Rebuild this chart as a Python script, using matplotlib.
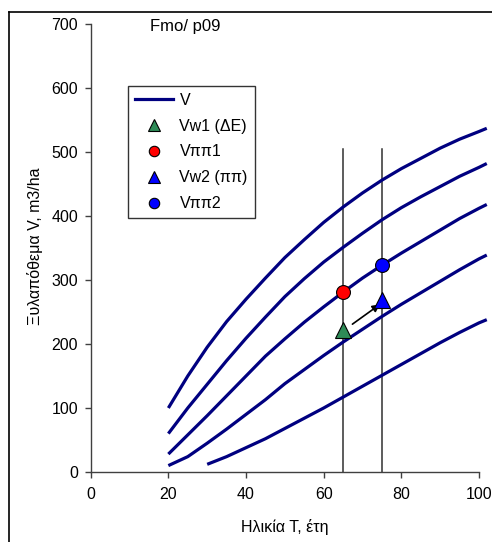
import matplotlib
matplotlib.use("Agg")
import matplotlib.pyplot as plt
from matplotlib.lines import Line2D

plt.rcParams['font.family'] = ['Liberation Sans', 'DejaVu Sans']

# ---- data ----
ages = [20, 25, 30, 35, 40, 45, 50, 55, 60, 65, 70, 75, 80, 85, 90, 95, 100, 102]
curve1 = [100, 150, 195, 235, 270, 303, 335, 363, 390, 414, 436, 456, 474, 490, 506, 520, 532, 537]
curve2 = [60, 100, 137, 174, 209, 242, 274, 302, 328, 351, 373, 394, 413, 430, 446, 462, 476, 482]
curve3 = [28, 58, 88, 119, 150, 181, 208, 234, 258, 281, 303, 323, 342, 360, 378, 396, 412, 418]
curve4 = [10, 24, 45, 67, 90, 113, 138, 160, 182, 203, 223, 243, 262, 280, 298, 316, 333, 339]
ages5 = [30, 35, 40, 45, 50, 55, 60, 65, 70, 75, 80, 85, 90, 95, 100, 102]
curve5 = [12, 24, 38, 52, 68, 84, 100, 117, 134, 151, 168, 185, 202, 218, 233, 238]

vlines_x = [65, 75]
vline_top = 505

vw1 = (65, 222)
vpp1 = (65, 281)
vw2 = (75, 268)
vpp2 = (75, 324)
arrow_start = (67.4, 231)
arrow_end = (74.5, 262)

xticks = [0, 20, 40, 60, 80, 100]
yticks = [0, 100, 200, 300, 400, 500, 600, 700]

FS = 11.5

W, H = 492, 542
fig = plt.figure(figsize=(W / 100, H / 100), dpi=100)
ax = fig.add_axes([90.7 / W, 1 - 472 / H, (479 - 90.7) / W, (472 - 24) / H])

navy = '#000080'
for xs, ys in [(ages, curve1), (ages, curve2), (ages, curve3), (ages, curve4), (ages5, curve5)]:
    ax.plot(xs, ys, color=navy, lw=2.3, clip_on=False, solid_capstyle='butt', zorder=3)

for xv in vlines_x:
    ax.plot([xv, xv], [0, vline_top], color='#303030', lw=1.1, zorder=2)

ax.annotate('', xy=arrow_end, xytext=arrow_start,
            arrowprops=dict(arrowstyle='-|>', color='black', lw=1.2,
                            mutation_scale=11, shrinkA=0, shrinkB=0), zorder=4)

ax.plot(*vw1, marker='^', ms=11, color='#2E8B57', mec='black', mew=0.8, ls='none', zorder=5)
ax.plot(*vpp1, marker='o', ms=10, color='#FF0000', mec='black', mew=0.8, ls='none', zorder=5)
ax.plot(*vw2, marker='^', ms=11, color='#0000FF', mec='black', mew=0.8, ls='none', zorder=5)
ax.plot(*vpp2, marker='o', ms=10, color='#0000FF', mec='black', mew=0.8, ls='none', zorder=5)

ax.set_xlim(0, 100)
ax.set_ylim(0, 700)
ax.set_xticks(xticks)
ax.set_yticks(yticks)
for s in ['top', 'right']:
    ax.spines[s].set_visible(False)
for s in ['left', 'bottom']:
    ax.spines[s].set_color('#404040')
    ax.spines[s].set_linewidth(1.0)
ax.tick_params(axis='both', direction='out', length=4, width=1.0, color='#404040', labelsize=FS)
ax.tick_params(axis='x', pad=7)
ax.tick_params(axis='y', pad=5)

ax.set_xlabel('Ηλικία Τ, έτη', fontsize=FS, labelpad=12)
fig.text(35 / W, 1 - 246 / H, 'Ξυλαπόθεμα V, m3/ha', rotation=90, fontsize=FS,
         ha='center', va='center')

fig.text(150 / W, 1 - 26 / H, 'Fmo/ p09', fontsize=12, ha='left', va='center')

handles = [
    Line2D([], [], color=navy, lw=2.3),
    Line2D([], [], marker='^', ms=8, color='#2E8B57', mec='black', mew=0.8, ls='none'),
    Line2D([], [], marker='o', ms=7.5, color='#FF0000', mec='black', mew=0.8, ls='none'),
    Line2D([], [], marker='^', ms=8, color='#0000FF', mec='black', mew=0.8, ls='none'),
    Line2D([], [], marker='o', ms=7.5, color='#0000FF', mec='black', mew=0.8, ls='none'),
]
labels = ['V', 'Vw1 (ΔΕ)', 'Vππ1', 'Vw2 (ππ)', 'Vππ2']
leg = fig.legend(handles, labels, loc='upper left', bbox_to_anchor=(128 / W, 1 - 86 / H),
                 borderaxespad=0, fontsize=FS, frameon=True, fancybox=False,
                 handlelength=2.4, handletextpad=0.4, labelspacing=0.68,
                 borderpad=0.42)
leg.get_frame().set_edgecolor('black')
leg.get_frame().set_linewidth(1.0)

# outer chart frame
fig.add_artist(Line2D([8.5 / W, 8.5 / W], [0, 1 - 11.7 / H], color='black', lw=1.2,
                      transform=fig.transFigure))
fig.add_artist(Line2D([8.5 / W, 1], [1 - 11.7 / H, 1 - 11.7 / H], color='black', lw=1.2,
                      transform=fig.transFigure))

fig.savefig('out.png', dpi=100)
